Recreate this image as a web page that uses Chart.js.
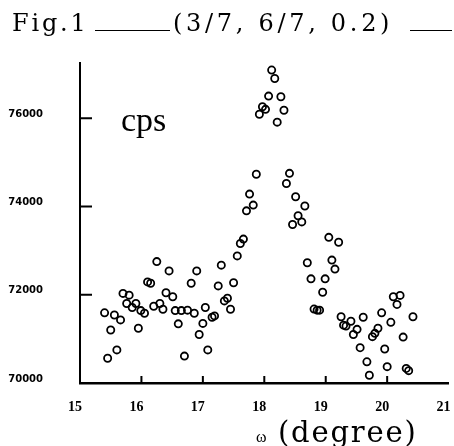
<!DOCTYPE html>
<html>
<head>
<meta charset="utf-8">
<script src="https://cdn.jsdelivr.net/npm/chart.js@4"></script>
<style>
  body { margin: 0; background: #fff; }
  #wrap { position: relative; width: 454px; height: 446px; }
  #myChart { position: absolute; left: 0; top: 0; }
  .txt { position: absolute; white-space: nowrap; line-height: 1; color: #000; font-family: "DejaVu Serif", serif; }
  .dash { position: absolute; height: 0; border-top: 1.5px solid #000; }
</style>
</head>
<body>
<div id="wrap">
  <canvas id="myChart" width="454" height="446"></canvas>
  <div class="txt" style="left:12px; top:11px; font-size:24px; letter-spacing:2.8px;">Fig.1</div>
  <div class="dash" style="left:95px; top:30px; width:75px;"></div>
  <div class="txt" style="left:173px; top:11px; font-size:24px; letter-spacing:3.7px;">(3/7, 6/7, 0.2)</div>
  <div class="dash" style="left:410px; top:30px; width:42px;"></div>
  <div class="txt" style="left:121px; top:103px; font-size:34px; font-family:'Liberation Serif', serif;">cps</div>
  <div class="txt" style="left:256px; top:429px; font-size:16px; font-family:'Liberation Serif', serif;">ω</div>
  <div class="txt" style="left:278px; top:418px; font-size:29px; letter-spacing:1.8px;">(degree)</div>
</div>
<script>
// omega (degree) and counts per second
const omega = [
  15.40, 15.45, 15.50, 15.56, 15.60, 15.66, 15.70, 15.76, 15.80, 15.85,
  15.91, 15.95, 15.99, 16.05, 16.10, 16.15, 16.20, 16.25, 16.30, 16.35,
  16.40, 16.45, 16.51, 16.55, 16.60, 16.65, 16.70, 16.75, 16.81, 16.86,
  16.90, 16.94, 17.00, 17.04, 17.08, 17.15, 17.19, 17.25, 17.30, 17.35,
  17.40, 17.45, 17.50, 17.56, 17.61, 17.66, 17.71, 17.76, 17.82, 17.87,
  17.92, 17.97, 18.02, 18.07, 18.12, 18.17, 18.21, 18.27, 18.32, 18.36,
  18.41, 18.46, 18.51, 18.55, 18.61, 18.66, 18.70, 18.76, 18.81, 18.86,
  18.90, 18.95, 18.99, 19.05, 19.10, 19.15, 19.21, 19.25, 19.29, 19.33,
  19.41, 19.45, 19.51, 19.56, 19.61, 19.67, 19.71, 19.76, 19.80, 19.85,
  19.91, 19.96, 20.00, 20.06, 20.10, 20.16, 20.21, 20.26, 20.31, 20.35,
  20.42
];
const cps = [
  71590, 70560, 71200, 71540, 70750, 71430, 72030, 71800, 71990, 71710,
  71800, 71240, 71640, 71580, 72290, 72260, 71740, 72750, 71800, 71670,
  72045, 72540, 71955, 71640, 71340, 71640, 70610, 71650, 72260, 71580,
  72540, 71100, 71350, 71710, 70750, 71490, 71520, 72200, 72670, 71860,
  71920, 71670, 72270, 72880, 73160, 73260, 73900, 74280, 74030, 74730,
  76090, 76260, 76200, 76500, 77090, 76900, 75910, 76485, 76180, 74520,
  74750, 73590, 74220, 73790, 73650, 74010, 72725, 72360, 71675, 71650,
  71650, 72055, 72360, 73300, 72785, 72580, 73190, 71500, 71310, 71290,
  71400, 71100, 71215, 70800, 71490, 70480, 70175, 71050, 71125, 71240,
  71590, 70770, 70370, 71375, 71955, 71780, 71985, 71040, 70330, 70280,
  71500
];
const xTicks = [15, 16, 17, 18, 19, 20, 21];
const yTicks = [70000, 72000, 74000, 76000];

//Draws the short tick marks pointing into the plot
const inwardTicks = {
  id: 'inwardTicks',
  afterDraw(chart) {
    const ctx = chart.ctx;
    const x = chart.scales.x;
    const y = chart.scales.y;
    ctx.save();
    ctx.strokeStyle = '#000';
    ctx.lineWidth = 2;
    ctx.beginPath();
    yTicks.forEach(v => {
      if (v <= y.min) return;
      const py = y.getPixelForValue(v);
      ctx.moveTo(x.left, py);
      ctx.lineTo(x.left + 12, py);
    });
    xTicks.forEach(v => {
      if (v <= x.min || v >= x.max) return;
      const px = x.getPixelForValue(v);
      ctx.moveTo(px, y.bottom);
      ctx.lineTo(px, y.bottom - 7);
    });
    ctx.stroke();
    ctx.restore();
  }
};

const ctx = document.getElementById("myChart");
const chart = new Chart(ctx, {
  type: 'scatter',
  data: {
    datasets: [{
      data: omega.map((w, i) => ({ x: w, y: cps[i] })),
      pointStyle: 'circle',
      pointRadius: 3.6,
      pointHoverRadius: 3.6,
      borderColor: '#000',
      backgroundColor: 'rgba(255,255,255,0)',
      borderWidth: 1.8
    }]
  },
  options: {
    responsive: false,
    animation: false,
    events: [],
    layout: { padding: { top: 63, right: 3, left: 0, bottom: 0 } },
    plugins: { legend: { display: false }, tooltip: { enabled: false } },
    scales: {
      x: {
        type: 'linear',
        min: 15,
        max: 21,
        afterBuildTicks: s => { s.ticks = xTicks.map(v => ({ value: v })); },
        afterFit: s => { s.height = 63; s.paddingLeft = 0; s.paddingRight = 0; },
        grid: { display: false, drawTicks: false },
        border: { display: true, color: '#000', width: 2.5 },
        ticks: {
          color: '#000',
          padding: 16,
          labelOffset: -5,
          font: { family: 'Liberation Serif', size: 14, weight: 'bold' },
          maxRotation: 0,
          autoSkip: false
        }
      },
      y: {
        type: 'linear',
        min: 70000,
        max: 77250,
        afterBuildTicks: s => { s.ticks = yTicks.map(v => ({ value: v })); },
        afterFit: s => { s.width = 80; s.paddingTop = 0; s.paddingBottom = 0; },
        grid: { display: false, drawTicks: false },
        border: { display: true, color: '#000', width: 2 },
        ticks: {
          color: '#000',
          padding: 37,
          labelOffset: -4,
          font: { family: 'DejaVu Sans', size: 10, weight: 'bold' },
          callback: v => String(v)
        }
      }
    }
  },
  plugins: [inwardTicks]
});
</script>
</body>
</html>
